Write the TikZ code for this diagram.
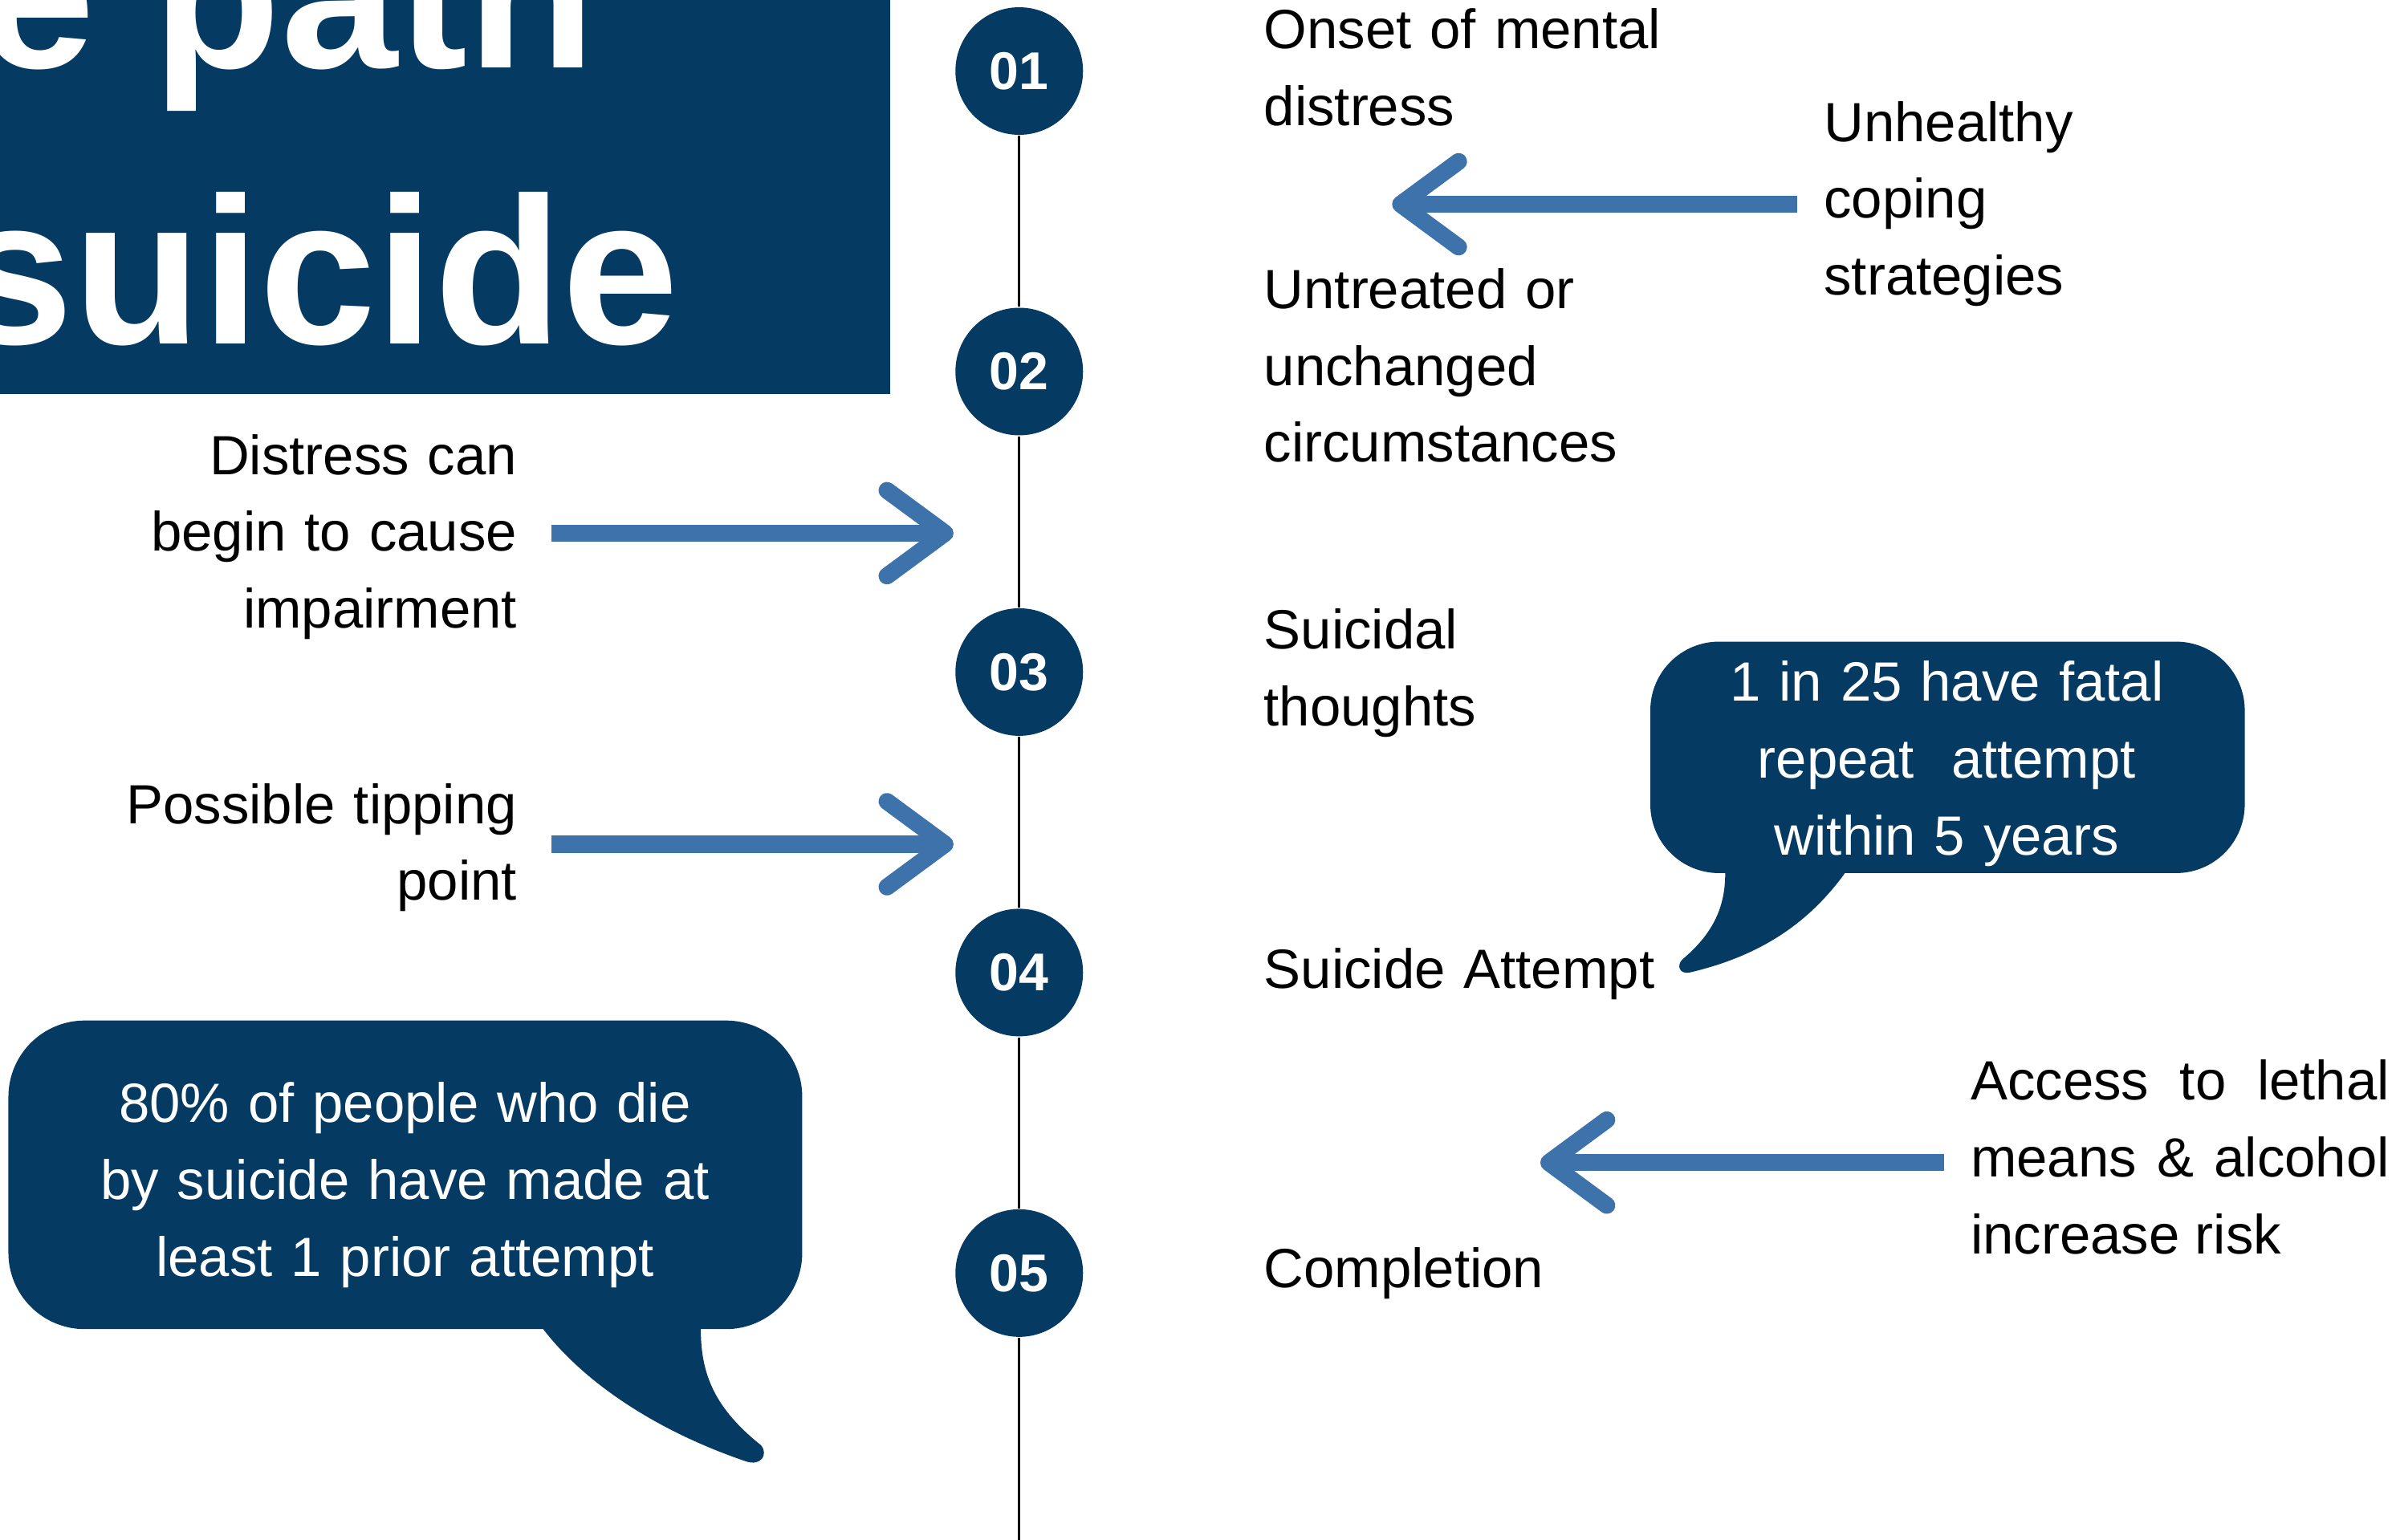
\documentclass[tikz,border=0pt]{standalone}
\usepackage{fontspec}
\setmainfont{Liberation Sans}
\usepackage{xcolor}
\usepackage{tikz}
\usetikzlibrary{arrows.meta}

\definecolor{navy}{HTML}{053A62}
\definecolor{steel}{HTML}{3D72AB}

\begin{document}
\begin{tikzpicture}[
		num/.style={circle, fill=navy, minimum size=8.35mm, inner sep=0pt, text=white, font=\fontsize{9.9}{12}\selectfont\bfseries},
		lbl/.style={inner sep=0pt, text width=3.2cm, font=\fontsize{10.3}{14.3}\selectfont},
		say/.style={lbl, text=white, text width=4.6cm, align=center, anchor=base},
		big/.style={inner sep=0pt, anchor=base east, text=white, font=\fontsize{39}{46}\selectfont\bfseries},
		push/.style={steel, line width=3.15pt, -{Straight Barb[length=3.8mm, width=5.6mm, round]}}
	]
			\useasboundingbox (0, 0) rectangle (15.68, -10.08);
			\clip (0, 0) rectangle (15.68, -10.08);

			% title block
			\fill[navy] (0, 0) rectangle (5.824, -2.577);
			\node[big] (pathword) at (3.905, -0.446) {e path};
			\node[big] (suicideword) at (4.45, -2.251) {suicide};

			% timeline
			\foreach \i in {1,...,5}
				\node[num] (n\i) at (6.67, {-0.465 - 1.967*(\i-1)}) {0\i};
			\coordinate (bottom) at (6.67, -10.08);
			\foreach \i/\j in {1/2, 2/3, 3/4, 4/5}
				\draw (n\i) -- (n\j);
			\draw (n5) -- (bottom);

			% stages
			\node[lbl, anchor=base west, align=left] (onset) at (8.265, -0.317) {Onset of mental\\distress};
			\node[lbl, anchor=base west, align=left] (untreated) at (8.265, -2.02) {Untreated or\\unchanged\\circumstances};
			\node[lbl, anchor=base west, align=left] (thoughts) at (8.265, -4.248) {Suicidal\\thoughts};
			\node[lbl, anchor=base west, align=left] (attempt) at (8.265, -6.47) {Suicide Attempt};
			\node[lbl, anchor=base west, align=left] (completion) at (8.265, -8.43) {Completion};

			% factors
			\node[lbl, anchor=base west, align=left] (coping) at (11.93, -0.926) {Unhealthy\\coping\\strategies};
			\node[lbl, anchor=base west, align=justify, text width=2.74cm] (lethal) at (12.89, -7.20) {Access to lethal\linebreak means \& alcohol\linebreak increase risk};
			\node[lbl, anchor=base east, align=right] (distress) at (3.39, -3.106) {Distress can\\begin to cause\\impairment};
			\node[lbl, anchor=base east, align=right] (tipping) at (3.39, -5.39) {Possible tipping\\point};

			\coordinate (copingtail) at (11.76, -1.337);
			\coordinate (copingtip) at (9.11, -1.337);
			\coordinate (lethaltail) at (12.72, -7.61);
			\coordinate (lethaltip) at (10.08, -7.61);
			\coordinate (distresstail) at (3.608, -3.49);
			\coordinate (distresstip) at (6.24, -3.49);
			\coordinate (tippingtail) at (3.608, -5.526);
			\coordinate (tippingtip) at (6.24, -5.526);
			\draw[push] (copingtail) -- (copingtip);
			\draw[push] (lethaltail) -- (lethaltip);
			\draw[push] (distresstail) -- (distresstip);
			\draw[push] (tippingtail) -- (tippingtip);

			% speech bubbles: body, then tail
			\fill[navy, rounded corners=4.5mm] (10.80, -4.20) rectangle (14.69, -5.715);
			\fill[navy] (11.29, -5.65) -- (11.29, -5.72)
				.. controls (11.29, -5.95) and (11.20, -6.12) .. (11.01, -6.28)
				.. controls (10.97, -6.32) and (10.99, -6.38) .. (11.06, -6.365)
				.. controls (11.55, -6.25) and (11.85, -6.02) .. (12.07, -5.72)
				-- (12.07, -5.65) -- cycle;
			\node[say] (stat25) at (12.74, -4.59) {1 in 25 have fatal\\repeat\ \ attempt\\within 5 years};

			\fill[navy, rounded corners=5mm] (0.055, -6.68) rectangle (5.25, -8.70);
			\fill[navy] (3.50, -8.65) -- (3.555, -8.70)
				.. controls (3.80, -9.02) and (4.25, -9.35) .. (4.88, -9.565)
				.. controls (4.98, -9.60) and (5.03, -9.52) .. (4.98, -9.46)
				.. controls (4.68, -9.22) and (4.586, -9.00) .. (4.586, -8.70)
				-- (4.586, -8.65) -- cycle;
			\node[say] (stat80) at (2.65, -7.348) {80\% of people who die\\by suicide have made at\\least 1 prior attempt};
		\end{tikzpicture}
\end{document}
